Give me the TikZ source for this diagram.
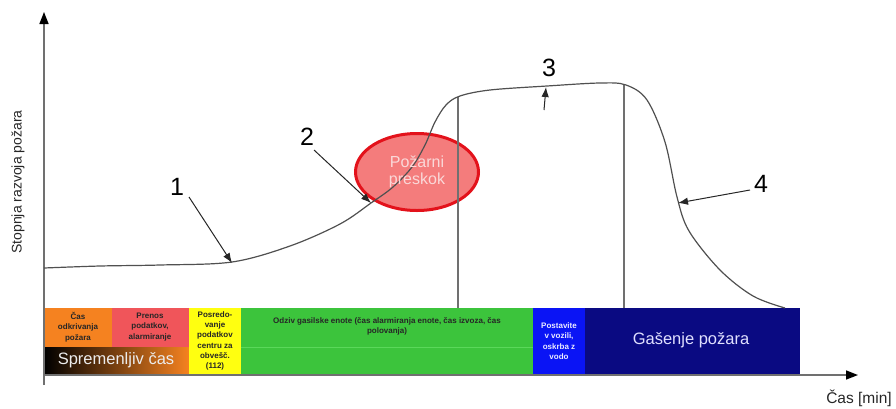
\documentclass[tikz,border=0pt]{standalone}
\usepackage{fontspec}
\setmainfont{Liberation Sans}
\usetikzlibrary{arrows.meta,shapes.geometric}
\definecolor{orC}{HTML}{F58220}
\definecolor{pkC}{HTML}{F0555A}
\definecolor{ylC}{HTML}{FFFF10}
\definecolor{grC}{HTML}{3CC43C}
\definecolor{grL}{HTML}{5AD85A}
\definecolor{blC}{HTML}{0A14F5}
\definecolor{nvC}{HTML}{0A0A82}
\definecolor{axC}{HTML}{707070}
\definecolor{cvC}{HTML}{505050}
\definecolor{elF}{HTML}{F47C7C}
\definecolor{elD}{HTML}{E3121B}
\definecolor{elT}{HTML}{FAD8D8}
\begin{document}
\begin{tikzpicture}[x=1pt,y=-1pt,
  small/.style={font=\fontsize{8}{10.3}\selectfont\bfseries, align=center, text=black!85, inner sep=0},
  big/.style={font=\fontsize{16.5}{19}\selectfont, text=white!88!blue, inner sep=0},
  num/.style={font=\fontsize{25}{28}\selectfont, inner sep=0},
  axis/.style={draw=axC, line width=1.5, -{Triangle[length=12pt,width=9pt,color=black]}},
  arr/.style={draw=black!85, line width=1, -{Latex[length=10pt,width=7.5pt]}},
  curve/.style={draw=cvC, line width=1.2},
  vline/.style={draw=axC, line width=1.2}]
\useasboundingbox (0,0) rectangle (896,408);

% bars
\fill[orC] (44,308) rectangle (112,347);
\fill[pkC] (112,308) rectangle (189,347);
\shade[left color=black, right color=orC] (44,347) rectangle (189,375);
\fill[ylC] (189,308) rectangle (241,375);
\fill[grC] (241,308) rectangle (533,375);
\draw[grL, line width=0.6] (241,347) -- (533,347);
\fill[blC] (533,308) rectangle (585,375);
\fill[nvC] (585,308) rectangle (800,375);

\node[small] (t1) at (78,327) {Čas\\odkrivanja\\požara};
\node[small] (t2) at (150,327) {Prenos\\podatkov,\\alarmiranje};
\node[small] (t3) at (215,341) {Posredo-\\vanje\\podatkov\\centru za\\obvešč.\\(112)};
\node[small] (t4) at (387,326) {Odziv gasilske enote (čas alarmiranja enote, čas izvoza, čas\\polovanja)};
\node[small, text=white!92!blue] (t5) at (559,341) {Postavite\\v vozili,\\oskrba z\\vodo};
\node[big] (t6) at (691,340) {Gašenje požara};
\node[big, text=white!85!gray] (t7) at (116,360) {Spremenljiv čas};

% axes
\coordinate (o) at (44,385);
\coordinate (ytip) at (44,12);
\coordinate (xo) at (44,375);
\coordinate (xtip) at (858,375);
\draw[axis] (o) -- (ytip);
\draw[axis] (xo) -- (xtip);
\node[rotate=90, font=\fontsize{14}{16}\selectfont, text=black!85] (yl) at (18,182) {Stopnja razvoja požara};
\node[font=\fontsize{15.5}{18}\selectfont, text=black!85] (xl) at (859,398) {Čas [min]};

% ellipse
\node[ellipse, draw=elD, line width=3, fill=elF, minimum width=123, minimum height=77] (el) at (417,172) {};

% vertical lines
\coordinate (v1t) at (458,97);
\coordinate (v1b) at (458,308);
\coordinate (v2t) at (624,84);
\coordinate (v2b) at (624,308);
\draw[vline] (v1t) -- (v1b);
\draw[vline] (v2t) -- (v2b);

% curve
\draw[curve] plot[smooth, tension=0.55] coordinates {
 (44,268) (100,266) (160,265) (232,262) (290,246) (340,224) (371,203)
 (393,187) (412,167) (425,145) (435,122) (446,105) (460,96) (490,90)
 (547,86) (600,83) (626,85) (647,100) (665,142) (677,197) (689,231)
 (720,270) (753,296) (785,308)};

\node[font=\fontsize{16}{17.5}\selectfont, align=center, text=elT, inner sep=0] (elt) at (el.center) {Požarni\\preskok};

% labels and arrows
\node[num] (n1) at (177,187) {1};
\node[num] (n2) at (307,137) {2};
\node[num] (n3) at (549,68) {3};
\node[num] (n4) at (761,184) {4};
\coordinate (a1s) at (189,197); \coordinate (a1e) at (232,263);
\coordinate (a2s) at (314,150); \coordinate (a2e) at (371,203);
\coordinate (a3s) at (544,110); \coordinate (a3e) at (546,87);
\coordinate (a4s) at (750,190); \coordinate (a4e) at (678,203);
\draw[arr] (a1s) -- (a1e);
\draw[arr] (a2s) -- (a2e);
\draw[arr] (a3s) -- (a3e);
\draw[arr] (a4s) -- (a4e);
\end{tikzpicture}
\end{document}
